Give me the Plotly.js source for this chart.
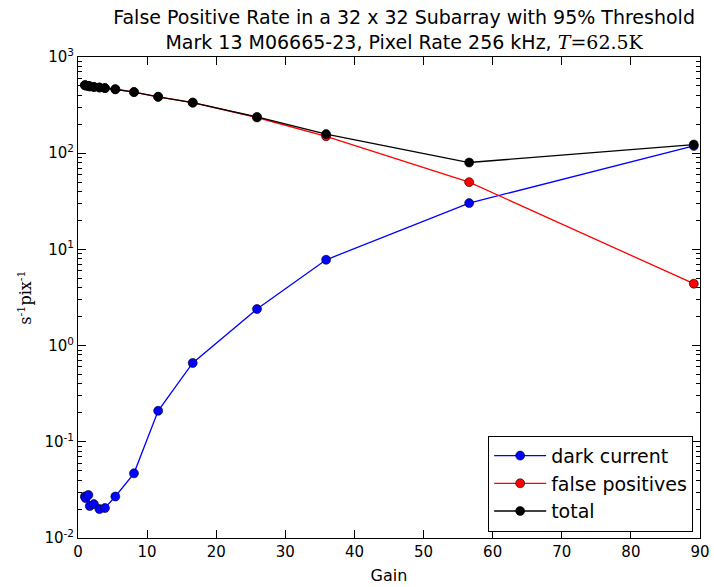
<!DOCTYPE html>
<html>
<head>
<meta charset="utf-8">
<script src="https://cdn.plot.ly/plotly-3.0.1.min.js"></script>
<style>html,body{margin:0;padding:0;background:#fff;}#chart{width:714px;height:587px;}</style>
</head>
<body>
<div id="chart"></div>
<script>
var gain = [1.0, 1.1, 1.5, 1.7, 2.3, 3.1, 3.9, 5.4, 8.1, 11.6, 16.6, 25.9, 35.9, 56.6, 89.1];
var darkCurrent = [0.027, 0.026, 0.028, 0.0215, 0.0225, 0.020, 0.0205, 0.027, 0.047, 0.21, 0.66, 2.4, 7.8, 30.3, 119];
var falsePositives = [510, 505, 500, 495, 488, 482, 475, 462, 432, 385, 335, 235, 150, 50, 4.4];
var total = [510, 505, 500, 495, 488, 482, 475, 462, 432, 386, 336, 238, 158, 80, 123];
var seriesNames = ["dark current", "false positives", "total"];
var yTickVals = [0.01, 0.1, 1, 10, 100, 1000];
var yTickText = ["10<sup>-2</sup>", "10<sup>-1</sup>", "10<sup>0</sup>", "10<sup>1</sup>", "10<sup>2</sup>", "10<sup>3</sup>"];
var xTickVals = [0, 10, 20, 30, 40, 50, 60, 70, 80, 90];
var yMinorTicks = [];
[0.01, 0.1, 1, 10, 100].forEach(function (d) { for (var k = 2; k <= 9; k++) yMinorTicks.push(d * k); });

function trace(y, name, color) {
  return {
    x: gain, y: y, name: name, type: 'scatter', mode: 'lines+markers',
    line: {color: color, width: 1.3},
    marker: {color: color, size: 9, line: {color: '#000', width: 0.6}}
  };
}
var data = [
  trace(darkCurrent, seriesNames[0], '#0000ff'),
  trace(falsePositives, seriesNames[1], '#ff0000'),
  trace(total, seriesNames[2], '#000000')
];
var layout = {
  width: 714, height: 587,
  margin: {l: 78, r: 14, t: 57, b: 49},
  paper_bgcolor: '#fff', plot_bgcolor: '#fff',
  font: {family: 'DejaVu Sans', color: '#000'},
  showlegend: true,
  title: {
    text: 'False Positive Rate in a 32 x 32 Subarray with 95% Threshold<br>Mark 13 M06665-23, Pixel Rate 256 kHz, <span style="font-family:\'DejaVu Serif\'"><i>T</i>=62.5K</span>',
    font: {size: 19, family: 'DejaVu Sans'},
    x: 0.566, xref: 'container', xanchor: 'center',
    y: 1, yref: 'paper', yanchor: 'bottom', pad: {b: 33}
  },
  xaxis: {
    range: [0, 90], tickvals: xTickVals, ticks: 'inside', ticklen: 8, tickcolor: '#000',
    showline: true, linecolor: '#000', linewidth: 1, mirror: 'allticks',
    showgrid: false, zeroline: false, tickfont: {size: 15},
    title: {text: 'Gain', font: {size: 16}, standoff: 9}
  },
  yaxis: {
    type: 'log', range: [-2, 3], tickvals: yTickVals, ticktext: yTickText,
    ticks: 'inside', ticklen: 8, tickcolor: '#000',
    showline: true, linecolor: '#000', linewidth: 1, mirror: 'allticks',
    showgrid: false, zeroline: false, tickfont: {size: 15},
    minor: {tickvals: yMinorTicks, ticks: 'inside', ticklen: 4, tickcolor: '#000', showgrid: false},
    title: {text: '<span style="font-family:\'DejaVu Serif\'">s<sup>-1</sup>pix<sup>-1</sup></span>', font: {size: 16}, standoff: 8}
  },
  legend: {
    x: 0.989, y: 0.013, xanchor: 'right', yanchor: 'bottom',
    bordercolor: '#000', borderwidth: 1, bgcolor: '#fff',
    font: {size: 19}, itemwidth: 52, tracegroupgap: 0
  }
};
Plotly.newPlot('chart', data, layout, {displayModeBar: false, staticPlot: true});
</script>
</body>
</html>
